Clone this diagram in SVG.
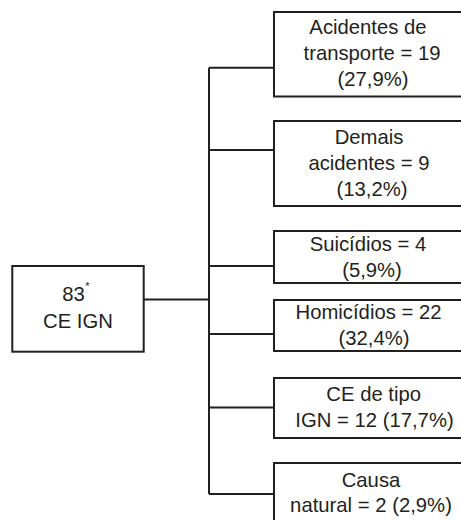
<svg xmlns="http://www.w3.org/2000/svg" width="461" height="520" viewBox="0 0 461 520">
<style>
.box{fill:#fff;stroke:#231f20;stroke-width:2}
.conn{fill:none;stroke:#231f20;stroke-width:2}
text{font-family:"Liberation Sans",Arial,sans-serif;font-size:20.3px;fill:#231f20;text-anchor:middle}
.sup{font-size:11px}
</style>
<rect width="461" height="520" fill="#fff"/>
<g id="connectors">
<path class="conn" d="M143.7,299.5 H209 M209,67.7 V494 M209,67.7 H274 M209,150 H274 M209,266 H274 M209,334 H274 M209,407.5 H274 M209,494 H274"/>
</g>
<g id="root">
<rect class="box" x="12.3" y="266" width="131.4" height="85.7"/>
<text x="73.5" y="300.7">83</text>
<text class="sup" x="87.5" y="290">*</text>
<text x="78" y="327.7">CE IGN</text>
</g>
<g id="n1">
<rect class="box" x="274" y="12" width="200" height="84.5"/>
<text x="368" y="34.3">Acidentes de</text>
<text x="372" y="60.3">transporte = 19</text>
<text x="373" y="86.3">(27,9%)</text>
</g>
<g id="n2">
<rect class="box" x="274" y="121" width="200" height="85"/>
<text x="369" y="143.5">Demais</text>
<text x="369" y="169.5">acidentes = 9</text>
<text x="372" y="195.5">(13,2%)</text>
</g>
<g id="n3">
<rect class="box" x="274" y="231" width="200" height="52"/>
<text x="368" y="250.5">Suicídios = 4</text>
<text x="372" y="276.5">(5,9%)</text>
</g>
<g id="n4">
<rect class="box" x="274" y="300" width="200" height="51"/>
<text x="368.5" y="319.3">Homicídios = 22</text>
<text x="374" y="345">(32,4%)</text>
</g>
<g id="n5">
<rect class="box" x="274" y="378" width="200" height="60"/>
<text x="373.7" y="401">CE de tipo</text>
<text x="374.5" y="426.7">IGN = 12 (17,7%)</text>
</g>
<g id="n6">
<rect class="box" x="274" y="463" width="200" height="70"/>
<text x="371" y="486.7">Causa</text>
<text x="371" y="512">natural = 2 (2,9%)</text>
</g>
</svg>
